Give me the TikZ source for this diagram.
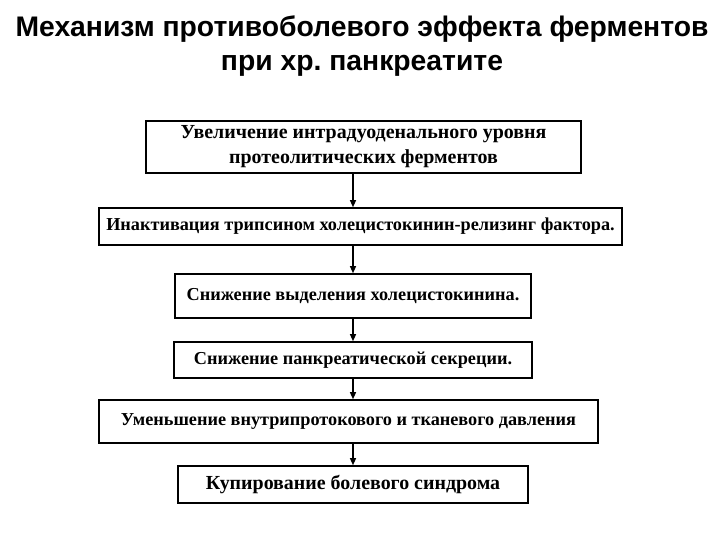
\documentclass[tikz,border=0pt]{standalone}
\usepackage{fontspec}
\setmainfont{Liberation Serif}
\newfontfamily\titlefont{Liberation Sans}
\usetikzlibrary{arrows.meta}
\tikzset{
	stepbox/.style={draw, line width=1.6bp, align=center, inner sep=0pt,
		font=\bfseries\fontsize{18.3}{25}\selectfont},
	bigbox/.style={stepbox, font=\bfseries\fontsize{20}{25}\selectfont},
	flow/.style={line width=1.2bp, -{Triangle[length=7bp,width=6bp]}}
}
\frenchspacing

\begin{document}
\begin{tikzpicture}[x=1bp, y=-1bp]
		%%%%% START %%%%%
		\useasboundingbox (0, 0) rectangle (720, 540);
		
		\node[font=\titlefont\bfseries\fontsize{28.4}{35}\selectfont, align=center] (title) at (362, 46)
			{Механизм противоболевого эффекта ферментов\\при хр. панкреатите};
		
		\node[bigbox, minimum width=435bp, minimum height=52bp] (b1) at (363.5, 147)
			{Увеличение интрадуоденального уровня\\протеолитических ферментов};
		\node[stepbox, minimum width=523bp, minimum height=37bp] (b2) at (360.5, 226.5)
			{Инактивация трипсином холецистокинин-релизинг фактора.};
		\node[stepbox, minimum width=356bp, minimum height=44bp] (b3) at (353, 296)
			{Снижение выделения холецистокинина.};
		\node[stepbox, minimum width=358bp, minimum height=36bp] (b4) at (353, 360)
			{Снижение панкреатической секреции.};
		\node[stepbox, minimum width=499bp, minimum height=43bp] (b5) at (348.5, 421.5)
			{Уменьшение внутрипротокового и тканевого давления};
		\node[bigbox, minimum width=350bp, minimum height=37bp] (b6) at (353, 484.5)
			{Купирование болевого синдрома};
		
		\draw[flow] (b1.south -| b3) -- (b2.north -| b3);
		\draw[flow] (b2.south -| b3) -- (b3.north);
		\draw[flow] (b3.south) -- (b4.north);
		\draw[flow] (b4.south) -- (b5.north -| b4);
		\draw[flow] (b5.south -| b4) -- (b6.north);
		
		%%%%% END %%%%%
	\end{tikzpicture}
\end{document}
